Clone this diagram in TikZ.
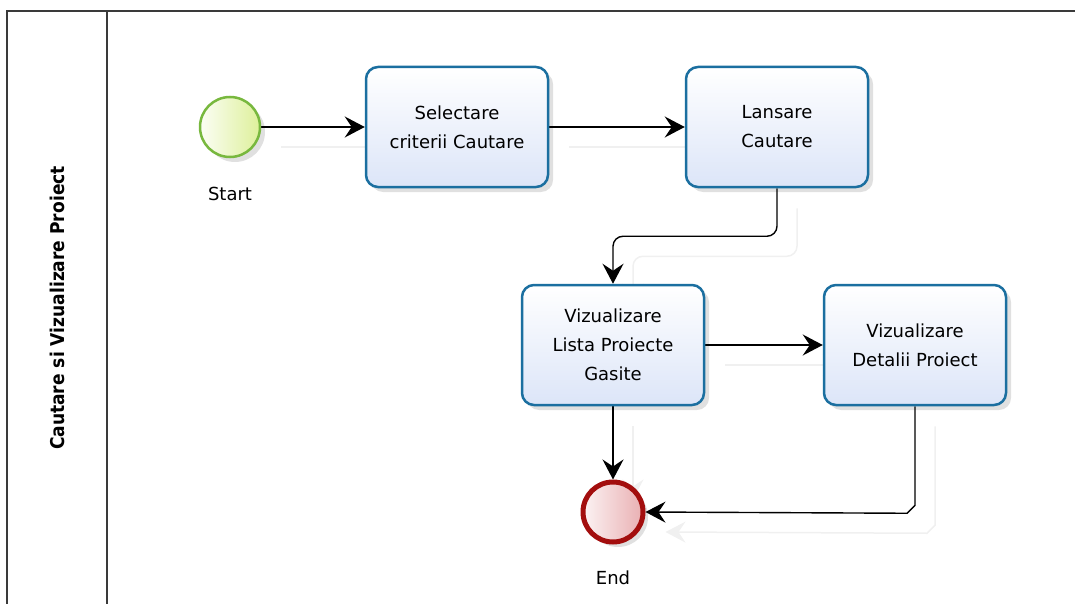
\documentclass[tikz,border=0pt]{standalone}
\usepackage{fontspec}
\setmainfont{DejaVu Sans}
\newfontfamily\lanefont{DejaVu Sans Condensed}
\usetikzlibrary{arrows.meta,shadows,backgrounds}

\definecolor{poolline}{HTML}{3A3A3A}
\definecolor{taskline}{HTML}{1B6FA0}
\definecolor{taskfill}{HTML}{DCE5F8}
\definecolor{startline}{HTML}{78B83E}
\definecolor{startfill}{HTML}{DDF09A}
\definecolor{endline}{HTML}{A30E0E}
\definecolor{endfill}{HTML}{E9AFB2}

\tikzset{
  pool/.style={draw=poolline, line width=2pt},
  softshadow/.style={drop shadow={shadow xshift=5pt, shadow yshift=-5pt, opacity=0.12, fill=black}},
  task/.style={rectangle, rounded corners=12pt, minimum width=182pt, minimum height=120pt,
    draw=taskline, line width=2.5pt, top color=white, bottom color=taskfill,
    align=center, font=\fontsize{18}{29}\selectfont, softshadow},
  startev/.style={circle, minimum size=60pt, inner sep=0pt, draw=startline, line width=2.5pt,
    left color=white!90!startfill, right color=startfill, softshadow},
  endev/.style={circle, minimum size=60pt, inner sep=0pt, draw=endline, line width=5pt,
    left color=white!85!endfill, right color=endfill, softshadow},
  evlabel/.style={font=\fontsize{18}{20}\selectfont},
  flow/.style={draw=black, line width=1.4pt,
    -{Stealth[length=20pt, width=21pt, inset=7pt]},
    preaction={draw=black!6, line width=1.5pt, transform canvas={shift={(20pt,-20pt)}}}},
}

\begin{document}
\begin{tikzpicture}[x=1pt, y=-1pt]
  \useasboundingbox (0,0) rectangle (1075,604);
  \clip (0,0) rectangle (1075,604);

  % pool frame and lane header
  \draw[pool] (7,620) -- (7,11) -- (1090,11);
  \draw[pool] (107,11) -- (107,620);
  \node[rotate=90, font=\lanefont\fontsize{19}{22}\bfseries\selectfont] (lanename) at (57,308)
    {Cautare si Vizualizare Proiect};

  % flow elements
  \node[startev] (start) at (230,127) {};
  \node[evlabel] (startlbl) at (230,194) {Start};

  \node[task] (select) at (457,127) {Selectare\\criterii Cautare};
  \node[task] (launch) at (777,127) {Lansare\\Cautare};
  \node[task] (list) at (613,345) {Vizualizare\\Lista Proiecte\\Gasite};
  \node[task] (detail) at (915,345) {Vizualizare\\Detalii Proiect};

  \node[endev] (end) at (613,512) {};
  \node[evlabel] (endlbl) at (613,578) {End};

  % sequence flows, kept behind the shapes
  \begin{scope}[on background layer]
    \draw[flow] (start) -- (select);
    \draw[flow] (select) -- (launch);
    \draw[flow, rounded corners=10pt] (launch.south) -- ++(0,48) -| (list.north);
    \draw[flow] (list) -- (detail);
    \draw[flow] (list) -- (end);
    \draw[flow] (detail.south) -- ++(0,99) -- ++(-8,8) -- (end.east);
  \end{scope}
\end{tikzpicture}
\end{document}
